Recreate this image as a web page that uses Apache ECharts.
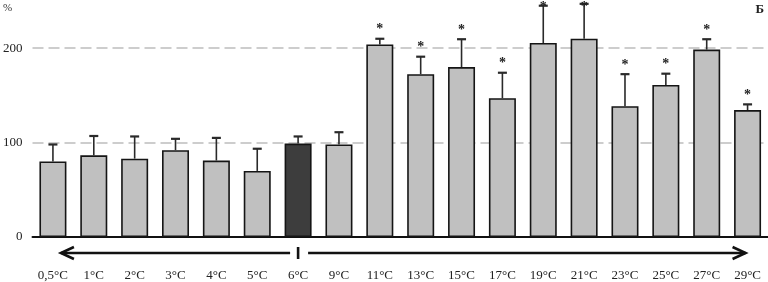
<!DOCTYPE html>
<html>
<head>
<meta charset="utf-8">
<script src="https://cdn.jsdelivr.net/npm/echarts@6/dist/echarts.min.js"></script>
<style>
html,body{margin:0;padding:0;background:#fff;}
#c{width:768px;height:282px;}
</style>
</head>
<body>
<div id="c"></div>
<script>
var categories = ['0,5°C','1°C','2°C','3°C','4°C','5°C','6°C','9°C','11°C','13°C','15°C','17°C','19°C','21°C','23°C','25°C','27°C','29°C'];
var means = [80, 86.5, 83, 92, 81, 70, 99, 98, 204, 172.5, 180, 147, 205.5, 210, 138.5, 161, 198.5, 134.5];
var errors = [18, 20.5, 23.5, 12, 24, 23.5, 7.5, 13, 6, 18.5, 29.5, 27, 39.5, 37, 34, 12, 11, 6];
var significant = [0,0,0,0,0,0,0,0,1,1,1,1,1,1,1,1,1,1];
var controlIndex = 6;
var yTicks = [0, 100, 200];
var gridValues = [100, 200];

var FONT = '"Liberation Serif", "DejaVu Serif", serif';
var chart = echarts.init(document.getElementById('c'), null, {renderer:'canvas'});

var barData = means.map(function(v, i){
  return {value: v, itemStyle: {color: i === controlIndex ? '#3d3d3d' : '#c0c0c0'}};
});
var errData = means.map(function(v, i){ return [i, v, v + errors[i], significant[i]]; });

var baseGraphic = [
  {type:'text', left: 3, top: 3, style:{text:'%', fontFamily:FONT, fontSize:11, fill:'#333'}},
  {type:'text', right: 4, top: 3, style:{text:'Б', fontFamily:FONT, fontSize:13, fontWeight:'bold', fill:'#222'}}
];

chart.setOption({
  animation: false,
  grid: {left: 31, right: 0, top: 1, bottom: 45},
  xAxis: {
    type: 'category', data: categories,
    axisLine: {lineStyle: {color: '#111', width: 2}},
    axisTick: {show: false},
    axisLabel: {margin: 32, fontFamily: FONT, fontSize: 13, color: '#222', interval: 0}
  },
  yAxis: {
    type: 'value', min: 0, max: 250, interval: 100,
    axisLine: {show: false}, axisTick: {show: false},
    axisLabel: {fontFamily: FONT, fontSize: 13, color: '#222', margin: 10,
      formatter: function(v){ return yTicks.indexOf(v) >= 0 ? String(v) : ''; }},
    splitLine: {show: false}
  },
  series: [
    {
      type: 'bar', data: barData, barWidth: 27,
      itemStyle: {borderColor: '#151515', borderWidth: 1.6},
      z: 2,
      markLine: {
        silent: true, symbol: 'none', label: {show: false},
        lineStyle: {color: '#bdbdbd', width: 1.5, type: [11, 5]},
        data: gridValues.map(function(v){ return {yAxis: v}; }),
        z: 1
      }
    },
    {
      type: 'custom', data: errData, z: 3,
      renderItem: function(params, api){
        var x = api.value(0);
        var lo = api.coord([x, api.value(1)]);
        var hi = api.coord([x, api.value(2)]);
        var children = [
          {type:'line', shape:{x1:lo[0], y1:lo[1], x2:hi[0], y2:hi[1]}, style:{stroke:'#2a2a2a', lineWidth:1.6}},
          {type:'line', shape:{x1:hi[0]-4.5, y1:hi[1], x2:hi[0]+4.5, y2:hi[1]}, style:{stroke:'#2a2a2a', lineWidth:2.2}}
        ];
        if (api.value(3)) {
          children.push({type:'text', style:{text:'*', x:hi[0], y:Math.max(hi[1]-9, 7), textAlign:'center', textVerticalAlign:'middle', fontFamily:FONT, fontSize:14, fontWeight:'bold', fill:'#222'}});
        }
        return {type:'group', children: children};
      }
    }
  ],
  graphic: baseGraphic
});

function drawArrows(){
  var y = 253;
  var first = chart.convertToPixel({xAxisIndex:0}, 0);
  var ctrl = chart.convertToPixel({xAxisIndex:0}, controlIndex);
  var last = chart.convertToPixel({xAxisIndex:0}, categories.length - 1);
  var lx = first + 8, rx = last - 2;
  var st = {stroke:'#111', lineWidth:2.6, fill:null};
  chart.setOption({graphic: baseGraphic.concat([
    {type:'line', shape:{x1:lx, y1:y, x2:ctrl-8, y2:y}, style:st},
    {type:'polyline', shape:{points:[[lx+13, y-6],[lx, y],[lx+13, y+6]]}, style:st},
    {type:'line', shape:{x1:ctrl, y1:y-6, x2:ctrl, y2:y+6}, style:{stroke:'#111', lineWidth:2.6}},
    {type:'line', shape:{x1:ctrl+10, y1:y, x2:rx, y2:y}, style:st},
    {type:'polyline', shape:{points:[[rx-13, y-6],[rx, y],[rx-13, y+6]]}, style:st}
  ])}, {replaceMerge:['graphic']});
}
drawArrows();
</script>
</body>
</html>
